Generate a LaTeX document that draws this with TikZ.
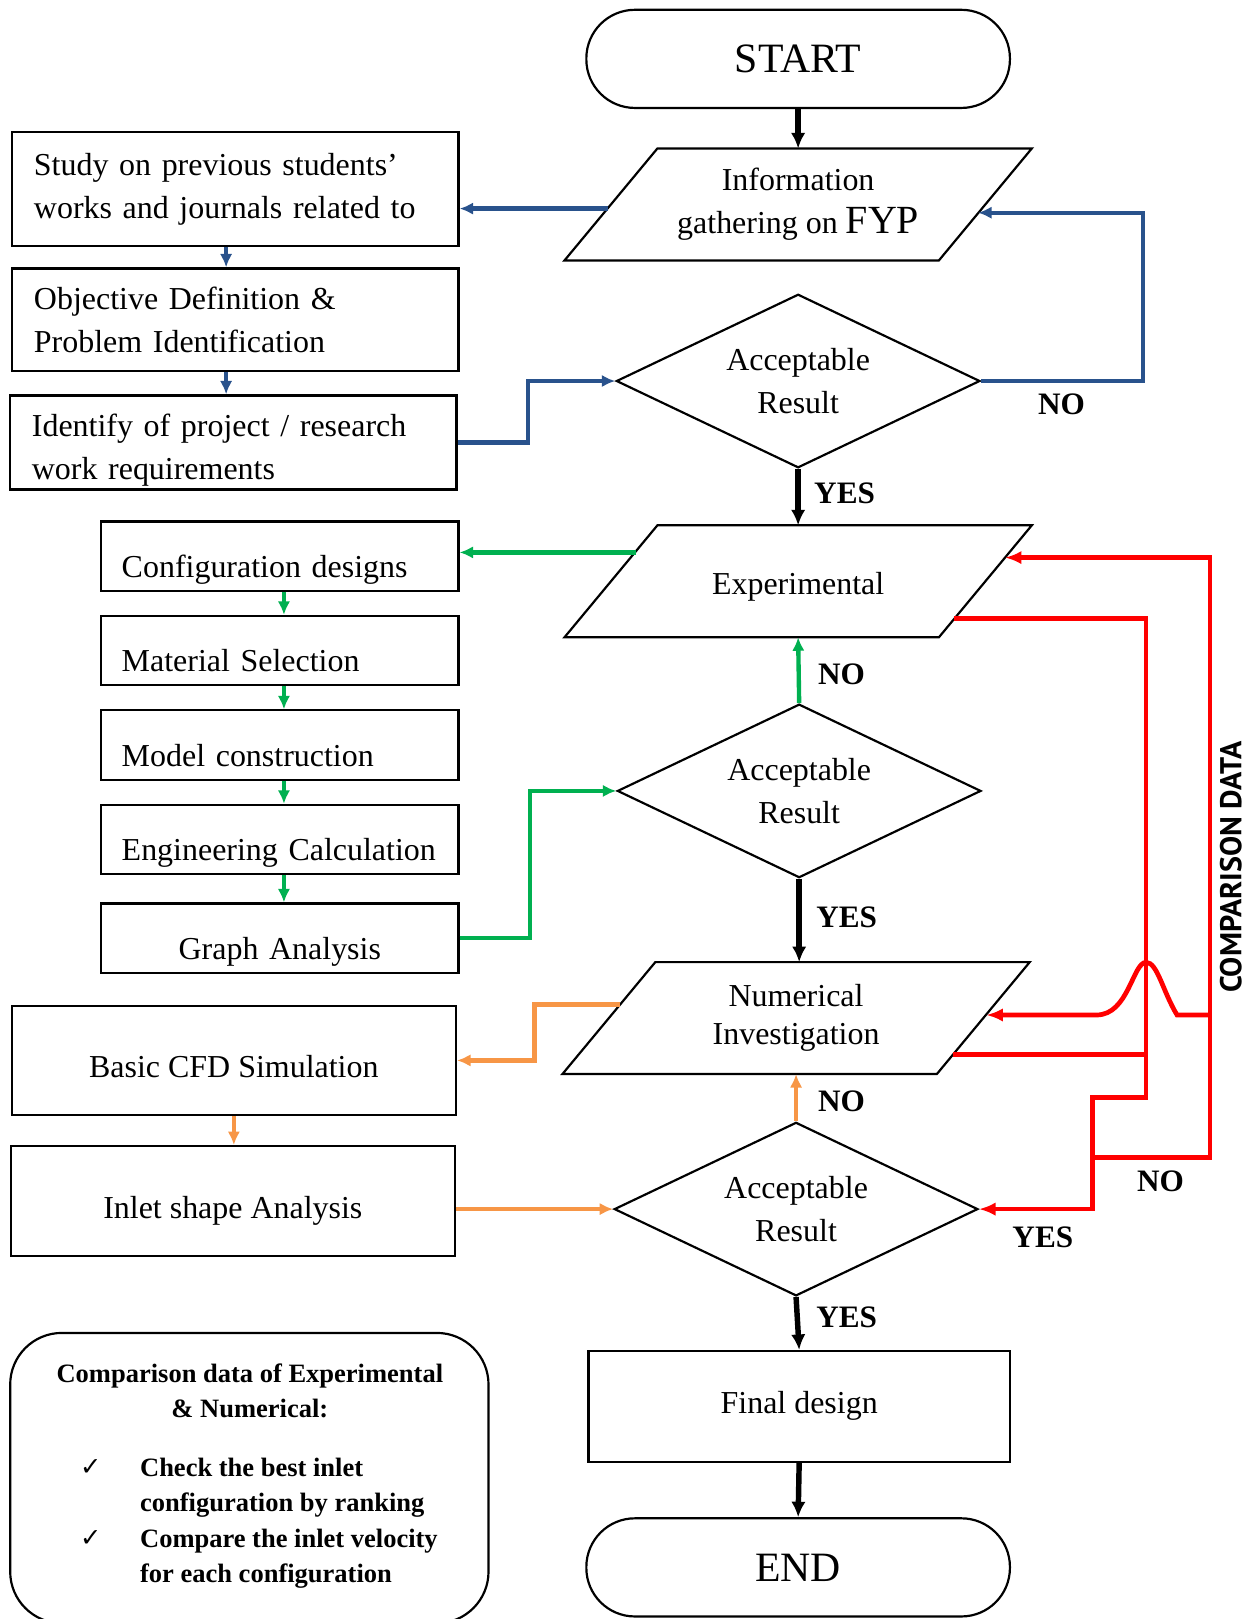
\documentclass[tikz,border=0pt]{standalone}
\usepackage{fontspec}
\setmainfont{Liberation Serif}
\newfontfamily\cmpfont{PT Sans}
\newfontfamily\symfont{DejaVu Sans}
\usepackage{xcolor}
\usetikzlibrary{shapes.geometric,arrows.meta,positioning,calc}

\definecolor{flowblue}{RGB}{41,82,140}
\definecolor{flowgreen}{RGB}{0,176,80}
\definecolor{floworange}{RGB}{247,150,70}
\definecolor{flowred}{RGB}{255,0,0}

\newcommand{\bodyfont}{\fontsize{8.8}{11.9}\selectfont}
\newcommand{\tagfont}{\fontsize{8.6}{10}\selectfont\bfseries}
\newcommand{\notefont}{\fontsize{7.3}{9.6}\selectfont\bfseries}

\begin{document}
\begin{tikzpicture}[x=0.01cm, y=-0.01cm,
    terminal/.style={draw, line width=0.6pt, rounded corners=0.47cm, minimum width=4.10cm, minimum height=0.95cm, font=\fontsize{11.5}{13}\selectfont},
    iobox/.style={minimum width=3.61cm, minimum height=1.07cm, inner sep=0pt, align=center, font=\bodyfont},
    decision/.style={draw, line width=0.6pt, diamond, aspect=2.1, minimum width=3.52cm, minimum height=1.68cm, inner sep=0pt, align=center, font=\bodyfont},
    notebox/.style={draw, line width=0.6pt, minimum width=4.32cm, text width=3.90cm, inner xsep=0.21cm, align=left, font=\bodyfont},
    stepbox/.style={draw, line width=0.6pt, minimum width=3.46cm, text width=3.06cm, inner xsep=0.2cm, inner ysep=0pt, text height=0.54cm, text depth=0.13cm, align=left, font=\bodyfont},
    simbox/.style={draw, line width=0.6pt, minimum width=4.30cm, minimum height=1.06cm, text height=0.34cm, text depth=0pt, font=\bodyfont},
    tag/.style={font=\tagfont, inner sep=0pt},
    flowarrow/.style={line width=1.5pt, -{Latex[length=0.15cm, width=0.14cm]}},
    bluearrow/.style={flowblue, line width=1.2pt, -{Latex[length=0.13cm, width=0.12cm]}},
    greenarrow/.style={flowgreen, line width=1.2pt, -{Latex[length=0.13cm, width=0.12cm]}},
    orangearrow/.style={floworange, line width=1.2pt, -{Latex[length=0.13cm, width=0.12cm]}},
    redline/.style={flowred, line width=1.3pt},
    redarrow/.style={redline, -{Latex[length=0.16cm, width=0.13cm]}}
  ]
  \useasboundingbox (0,0) rectangle (1218,1568);

  % main column
  \node[terminal] (start) at (773,57) {START};
  \node[iobox] (info) at (773,198) {Information\\gathering on {\fontsize{11}{12}\selectfont FYP}};
  \node[decision] (acc1) at (773,369) {Acceptable\\Result};
  \node[iobox, text height=0.25cm, text depth=0pt] (expt) at (773,563) {Experimental};
  \node[decision] (acc2) at (774,766) {Acceptable\\Result};
  \node[iobox, font=\fontsize{8.8}{10.4}\selectfont] (numer) at (771,986) {Numerical\\Investigation};
  \node[decision] (acc3) at (771,1171) {Acceptable\\Result};
  \node[draw, line width=0.6pt, minimum width=4.08cm, minimum height=1.07cm, font=\bodyfont] (final) at (774,1362) {Final design};
  \node[terminal] (finish) at (773,1518) {END};

  % slanted outlines of the data boxes
  \foreach \io in {info,expt,numer}
    \draw[line width=0.6pt] ($(\io.south west)+(-45,0)$) -- ($(\io.north west)+(45,0)$)
      -- ($(\io.north east)+(45,0)$) -- ($(\io.south east)+(-45,0)$) -- cycle;

  \draw[flowarrow] (start) -- (info);
  \draw[flowarrow] (acc1.south) -- (expt.north);
  \draw[flowarrow] (acc2.south) -- (acc2.south |- numer.north);
  \draw[flowarrow] (acc3.south) -- (final.north);
  \draw[flowarrow] (final.south) -- (finish.north);

  % literature stage (blue)
  \node[notebox, minimum height=1.10cm] (study) at (228,183) {Study on previous students’\\works and journals related to};
  \node[notebox, minimum height=0.99cm] (objective) at (228,309.5) {Objective Definition \&\\Problem Identification};
  \node[notebox, minimum height=0.91cm, text depth=0.33cm] (require) at (226,428.5) {Identify of project / research\\work requirements};

  \coordinate (infoL) at ($(info.west)+(-3,4)$);
  \coordinate (infoR) at ($(info.east)+(-7,8)$);
  \draw[bluearrow] (infoL) -- (infoL -| study.east);
  \draw[bluearrow] ($(study.south)+(-9,0)$) -- ($(objective.north)+(-9,0)$);
  \draw[bluearrow] ($(objective.south)+(-9,0)$) -- ($(objective.south |- require.north)+(-9,0)$);
  \draw[bluearrow] (require.east) -- ++(68,0) |- (acc1.west);
  \draw[bluearrow] (acc1.east) -- ++(157,0) |- (infoR);
  \node[tag] (no1) at (1028,392) {NO};
  \node[tag] (yes1) at (818,478) {YES};

  % experimental stage (green)
  \node[stepbox] (config) at (271,538.5) {Configuration designs};
  \node[stepbox] (material) at (271,630) {Material Selection};
  \node[stepbox] (model) at (271,721.5) {Model construction};
  \node[stepbox] (engcalc) at (271,813) {Engineering Calculation};
  \node[stepbox, align=center] (graph) at (271,908.5) {Graph Analysis};

  \coordinate (exptL) at ($(expt.west)+(24,-28)$);
  \draw[greenarrow] (exptL) -- (exptL -| config.east);
  \draw[greenarrow] ($(config.south)+(4,0)$) -- ($(material.north)+(4,0)$);
  \draw[greenarrow] ($(material.south)+(4,0)$) -- ($(model.north)+(4,0)$);
  \draw[greenarrow] ($(model.south)+(4,0)$) -- ($(engcalc.north)+(4,0)$);
  \draw[greenarrow] ($(engcalc.south)+(4,0)$) -- ($(graph.north)+(4,0)$);
  \draw[greenarrow] (graph.east) -- ++(68,0) |- (acc2.west);
  \draw[greenarrow] (acc2.north) -- (expt.south);
  \node[tag] (no2) at (815,653) {NO};
  \node[tag] (yes2) at (820,888) {YES};

  % numerical stage (orange)
  \node[simbox] (cfd) at (226.5,1027) {Basic CFD Simulation};
  \node[simbox] (inlet) at (225.5,1163) {Inlet shape Analysis};

  \coordinate (numerL) at ($(numer.west)+(11,-13)$);
  \draw[orangearrow] (numerL) -- ++(-83,0) |- (cfd.east);
  \draw[orangearrow] (cfd.south) -- (cfd.south |- inlet.north);
  \draw[orangearrow] (inlet.east |- acc3.west) -- (acc3.west);
  \draw[orangearrow] (acc3.north) -- (numer.south);
  \node[tag] (no3) at (815,1067) {NO};
  \node[tag] (yes3) at (820,1276) {YES};

  % comparison loop (red)
  \coordinate (rbus) at (1110,0);
  \coordinate (obus) at (1172,0);
  \coordinate (sbus) at (1058,0);
  \coordinate (jog) at (0,1063);
  \coordinate (tie) at (0,1121);
  \coordinate (exptR) at ($(expt.east)+(19,-23)$);
  \coordinate (exptB) at ($(expt.east)+(-30,36)$);
  \coordinate (numerR) at ($(numer.east)+(3,-3)$);
  \coordinate (numerB) at ($(numer.east)+(-29,35)$);
  \coordinate (hump) at (rbus |- numerR);

  \draw[redarrow] (exptB) -| (rbus |- jog) -| (sbus |- acc3.east) -- (acc3.east);
  \draw[redline] (numerB) -- (numerB -| rbus);
  \draw[redarrow] (sbus |- tie) -| (obus |- exptR) -- (exptR);
  \draw[redarrow] (obus |- numerR) -- ($(hump)+(30,0)$)
    .. controls ($(hump)+(16,-23)$) and ($(hump)+(11,-51)$) .. ($(hump)+(0,-51)$)
    .. controls ($(hump)+(-13,-51)$) and ($(hump)+(-17,0)$) .. ($(hump)+(-48,0)$)
    -- (numerR);
  \node[tag] (no4) at (1124,1144) {NO};
  \node[tag] (yes4) at (1010,1198) {YES};
  \node[rotate=90, inner sep=0pt, font=\cmpfont\bfseries\fontsize{8.3}{9}\selectfont] (cmplabel) at (1192,840) {COMPARISON DATA};

  % comparison note
  \node[draw, line width=0.6pt, rounded corners=0.5cm, minimum width=4.63cm, minimum height=2.81cm] (cmpbox) at (241.5,1431.5) {};
  \node[align=center, inner sep=0pt, font=\notefont] (cmphead) at (242,1347) {Comparison data of Experimental\\\& Numerical:};
  \node[inner sep=0pt, font=\symfont\fontsize{7}{8}\selectfont] (tick1) at (88,1421) {✓};
  \node[anchor=west, align=left, inner sep=0pt, font=\notefont] (item1) at (135,1441) {Check the best inlet\\configuration by ranking};
  \node[inner sep=0pt, font=\symfont\fontsize{7}{8}\selectfont] (tick2) at (88,1490) {✓};
  \node[anchor=west, align=left, inner sep=0pt, font=\notefont] (item2) at (135,1510) {Compare the inlet velocity\\for each configuration};
\end{tikzpicture}
\end{document}
